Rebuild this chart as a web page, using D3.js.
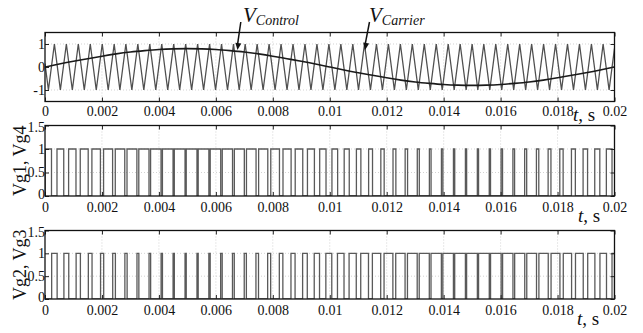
<!DOCTYPE html>
<html><head><meta charset="utf-8">
<script src="https://cdn.jsdelivr.net/npm/d3@7"></script>
<style>body{margin:0;background:#fff}svg{display:block}</style>
</head><body><svg id="c" width="643" height="333"></svg>
<script>
// ---------- data (seconds) ----------
const xTicks = [0,0.002,0.004,0.006,0.008,0.01,0.012,0.014,0.016,0.018,0.02];
const xTickLabels = ["0","0.002","0.004","0.006","0.008","0.01","0.012","0.014","0.016","0.018","0.02"];
const yTicksTop = [-1,0,1];
const yTickLabelsTop = ["-1","0","1"];
const yTicksGate = [0,0.5,1,1.5];
const yTickLabelsGate = ["0","0.5","1","1.5"];

const carrierStart = 0.15, carrierEnd = 0.81;
const carrierTroughTimes = [0.00012,0.00054,0.00096,0.00138,0.0018,0.00222,0.00263,0.00305,0.00347,0.00389,0.00431,0.00473,0.00515,0.00557,0.00599,0.00641,0.00682,0.00724,0.00766,0.00808,0.0085,0.00892,0.00934,0.00976,0.01018,0.0106,0.01101,0.01143,0.01185,0.01227,0.01269,0.01311,0.01353,0.01395,0.01437,0.01479,0.0152,0.01562,0.01604,0.01646,0.01688,0.0173,0.01772,0.01814,0.01856,0.01898,0.0194,0.01981];
const carrierPeakTimes = [0.00033,0.00075,0.00117,0.00159,0.00201,0.00243,0.00284,0.00326,0.00368,0.0041,0.00452,0.00494,0.00536,0.00578,0.0062,0.00662,0.00703,0.00745,0.00787,0.00829,0.00871,0.00913,0.00955,0.00997,0.01039,0.01081,0.01122,0.01164,0.01206,0.01248,0.0129,0.01332,0.01374,0.01416,0.01458,0.015,0.01541,0.01583,0.01625,0.01667,0.01709,0.01751,0.01793,0.01835,0.01877,0.01919,0.0196];

const controlTime = [0,0.0005,0.001,0.0015,0.002,0.0025,0.003,0.0035,0.004,0.0045,0.005,0.0055,0.006,0.0065,0.007,0.0075,0.008,0.0085,0.009,0.0095,0.01,0.0105,0.011,0.0115,0.012,0.0125,0.013,0.0135,0.014,0.0145,0.015,0.0155,0.016,0.0165,0.017,0.0175,0.018,0.0185,0.019,0.0195,0.02];
const controlValue = [0,0.13,0.25,0.36,0.47,0.57,0.65,0.71,0.76,0.79,0.8,0.79,0.76,0.71,0.65,0.57,0.47,0.36,0.25,0.13,0,-0.13,-0.25,-0.36,-0.47,-0.57,-0.65,-0.71,-0.76,-0.79,-0.8,-0.79,-0.76,-0.71,-0.65,-0.57,-0.47,-0.36,-0.25,-0.13,0];

const vg14Rise = [0.000013,0.000421,0.000829,0.001238,0.001647,0.002057,0.002468,0.00288,0.003294,0.003708,0.004124,0.004541,0.00496,0.00538,0.005802,0.006225,0.006649,0.007075,0.007502,0.007929,0.008358,0.008787,0.009217,0.009647,0.010077,0.010507,0.010936,0.011365,0.011794,0.012222,0.012648,0.013074,0.013499,0.013922,0.014344,0.014764,0.015183,0.015601,0.016017,0.016432,0.016845,0.017258,0.017669,0.018079,0.018488,0.018897,0.019306,0.019714];
const vg14Fall = [0.000228,0.000658,0.001088,0.001517,0.001946,0.002374,0.002801,0.003227,0.003652,0.004075,0.004497,0.004918,0.005337,0.005755,0.006171,0.006586,0.007,0.007412,0.007824,0.008234,0.008643,0.009052,0.009461,0.009869,0.010277,0.010685,0.011093,0.011502,0.011911,0.012322,0.012733,0.013145,0.013558,0.013973,0.014389,0.014807,0.015226,0.015646,0.016068,0.016491,0.016916,0.017341,0.017768,0.018196,0.018625,0.019054,0.019484,0.019913];
const vg23Rise = [0.000234,0.000664,0.001093,0.001522,0.001951,0.002378,0.002805,0.00323,0.003654,0.004077,0.004498,0.004918,0.005337,0.005754,0.006169,0.006584,0.006997,0.007408,0.007819,0.008229,0.008638,0.009047,0.009455,0.009863,0.010271,0.010679,0.011088,0.011497,0.011907,0.012317,0.012729,0.013142,0.013556,0.013971,0.014388,0.014806,0.015226,0.015647,0.01607,0.016494,0.016919,0.017345,0.017772,0.018201,0.01863,0.019059,0.019489,0.019913];
const vg23Fall = [0.000426,0.000834,0.001243,0.001652,0.002061,0.002472,0.002884,0.003296,0.00371,0.004125,0.004542,0.00496,0.00538,0.005801,0.006223,0.006647,0.007072,0.007498,0.007925,0.008353,0.008782,0.009211,0.009641,0.010071,0.010501,0.010931,0.01136,0.011789,0.012217,0.012645,0.013071,0.013496,0.01392,0.014343,0.014764,0.015184,0.015602,0.016019,0.016434,0.016848,0.017261,0.017673,0.018084,0.018493,0.018902,0.019311,0.019719,0.02];
const gateHigh = 1, gateLow = 0;

// ---------- drawing ----------
const FONT = "'Liberation Serif','Times New Roman',serif";
const svg = d3.select("#c");
const x = d3.scaleLinear().domain([0,0.02]).range([45,614.5]);

const panels = [
  {id:"p1", top:32.5, bottom:101.5, dom:[-1.5,1.5], yt:yTicksTop, yl:yTickLabelsTop, grid:[-1,1], ts:[573,121], pad:4.5},
  {id:"p2", top:125.5, bottom:196, dom:[0,1.5], yt:yTicksGate, yl:yTickLabelsGate, grid:[0.5,1], ts:[578,222], pad:6, ylabel:"Vg1, Vg4"},
  {id:"p3", top:230.5, bottom:299, dom:[0,1.5], yt:yTicksGate, yl:yTickLabelsGate, grid:[0.5,1], ts:[577,325], pad:6, ylabel:"Vg2, Vg3"}
];

const defs = svg.append("defs");
panels.forEach(p => {
  p.y = d3.scaleLinear().domain(p.dom).range([p.bottom, p.top]);
  defs.append("clipPath").attr("id","clip"+p.id).append("rect")
    .attr("x",x(0)).attr("y",p.top).attr("width",x(0.02)-x(0)).attr("height",p.bottom-p.top);
  const g = svg.append("g");
  g.selectAll("line.gx").data(xTicks.slice(1,-1)).join("line")
    .attr("x1",d=>x(d)).attr("x2",d=>x(d)).attr("y1",p.top).attr("y2",p.bottom)
    .attr("stroke","#c8c8c8").attr("stroke-width",0.8).attr("stroke-dasharray","1,2");
  g.selectAll("line.gy").data(p.grid).join("line")
    .attr("x1",x(0)).attr("x2",x(0.02)).attr("y1",d=>p.y(d)).attr("y2",d=>p.y(d))
    .attr("stroke","#c8c8c8").attr("stroke-width",0.8).attr("stroke-dasharray","1,2");
});

// top panel curves
const P1 = panels[0];
const carrierPts = [[0, carrierStart]];
carrierTroughTimes.map(t=>[t,-1]).concat(carrierPeakTimes.map(t=>[t,1]))
  .sort((a,b)=>a[0]-b[0]).forEach(v=>carrierPts.push(v));
carrierPts.push([0.02, carrierEnd]);
svg.append("path").attr("clip-path","url(#clipp1)")
  .attr("d", d3.line().x(d=>x(d[0])).y(d=>P1.y(d[1]))(carrierPts))
  .attr("fill","none").attr("stroke","#505050").attr("stroke-width",1.3);
const ctrlPts = controlTime.map((t,i)=>[t,controlValue[i]]);
svg.append("path").attr("clip-path","url(#clipp1)")
  .attr("d", d3.line().x(d=>x(d[0])).y(d=>P1.y(d[1])).curve(d3.curveNatural)(ctrlPts))
  .attr("fill","none").attr("stroke","#1a1a1a").attr("stroke-width",1.6);

// gate panels
function gatePts(rise, fall){
  const pts=[[0,gateLow]];
  rise.forEach((r,i)=>{ pts.push([r,gateLow],[r,gateHigh],[fall[i],gateHigh],[fall[i],gateLow]); });
  pts.push([0.02,gateLow]);
  return pts;
}
[[panels[1],vg14Rise,vg14Fall],[panels[2],vg23Rise,vg23Fall]].forEach(([p,r,f])=>{
  svg.append("path").attr("clip-path","url(#clip"+p.id+")")
    .attr("d", d3.line().x(d=>x(d[0])).y(d=>p.y(d[1]))(gatePts(r,f)))
    .attr("fill","none").attr("stroke","#5a5a5a").attr("stroke-width",1.3);
});

// frames, ticks, labels
panels.forEach(p => {
  const g = svg.append("g");
  const xa = d3.axisBottom(x).tickValues(xTicks).tickSize(-4).tickPadding(p.pad).tickFormat((d,i)=>xTickLabels[i]);
  g.append("g").attr("transform",`translate(0,${p.bottom})`).call(xa);
  const xt = d3.axisTop(x).tickValues(xTicks).tickSize(-4).tickFormat("");
  g.append("g").attr("transform",`translate(0,${p.top})`).call(xt);
  const ya = d3.axisLeft(p.y).tickValues(p.yt).tickSize(-4).tickPadding(0).tickFormat((d,i)=>p.yl[i]);
  const yg = g.append("g").attr("transform",`translate(${x(0)},0)`).call(ya);
  yg.selectAll("text").attr("dy", d => d === p.dom[0] ? "0.2em" : (d === p.dom[1] ? "0.45em" : "0.32em"));
  const yr = d3.axisRight(p.y).tickValues(p.yt).tickSize(-4).tickFormat("");
  g.append("g").attr("transform",`translate(${x(0.02)},0)`).call(yr);
  g.selectAll(".domain").remove();
  g.selectAll(".tick line").attr("stroke","#222").attr("stroke-width",1);
  g.selectAll("text").attr("font-family",FONT).attr("font-size",14).attr("fill","#111");
  g.append("rect").attr("x",x(0)).attr("y",p.top).attr("width",x(0.02)-x(0)).attr("height",p.bottom-p.top)
    .attr("fill","none").attr("stroke","#111").attr("stroke-width",1.3);
  const ts = g.append("text").attr("x",p.ts[0]).attr("y",p.ts[1]).attr("font-family",FONT).attr("font-size",19).attr("fill","#111");
  ts.append("tspan").attr("font-style","italic").text("t");
  ts.append("tspan").text(", s");
  if (p.ylabel) {
    g.append("text").attr("transform",`translate(26,${(p.top+p.bottom)/2}) rotate(-90)`)
      .attr("text-anchor","middle").attr("font-family",FONT).attr("font-size",18).attr("fill","#111").text(p.ylabel);
  }
});

// annotations
function annot(tx, ty, sub, tipT, tipV, startX, startY){
  const t = svg.append("text").attr("x",tx).attr("y",ty).attr("font-family",FONT).attr("fill","#111").attr("font-style","italic");
  t.append("tspan").attr("font-size",21).text("V");
  t.append("tspan").attr("font-size",14).attr("dy",3).text(sub);
  const x2 = x(tipT), y2 = P1.y(tipV);
  svg.append("line").attr("x1",startX).attr("y1",startY).attr("x2",x2).attr("y2",y2-5)
    .attr("stroke","#111").attr("stroke-width",1.5);
  const ang = Math.atan2(y2-startY, x2-startX);
  const L=7, Wd=3;
  const bx = x2 - L*Math.cos(ang), by = y2 - L*Math.sin(ang);
  const px = -Math.sin(ang)*Wd, py = Math.cos(ang)*Wd;
  svg.append("path").attr("d",`M${x2},${y2}L${bx+px},${by+py}L${bx-px},${by-py}Z`).attr("fill","#111");
}
annot(243, 22, "Control", 0.00676, 0.74, 240.8, 22);
annot(369, 22, "Carrier", 0.01124, 0.74, 369.5, 22);
</script></body></html>
